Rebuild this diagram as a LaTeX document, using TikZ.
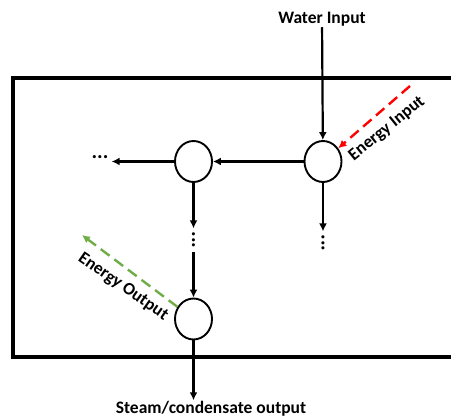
\documentclass[tikz,border=0pt]{standalone}
\usepackage{fontspec}
\setmainfont{Carlito}
\usetikzlibrary{arrows.meta,shapes.geometric}
\definecolor{eoutgreen}{RGB}{112,173,71}

\begin{document}
\begin{tikzpicture}[x=1pt,y=-1pt,
    tank/.style={draw,ellipse,line width=1.9pt,inner sep=0pt,minimum width=37pt,minimum height=41pt},
    lbl/.style={font=\fontsize{17.5}{20}\selectfont\bfseries,inner sep=1pt},
    flow/.style={line width=2.2pt,-{Latex[length=8pt,width=8pt]}},
    energy/.style={line width=2.4pt,dash pattern=on 11pt off 6pt,-{Latex[length=8pt,width=8pt]}},
    dots/.style={font=\fontsize{21}{20}\selectfont\bfseries,inner sep=3pt}]
    \useasboundingbox (0,0) rectangle (451,419);
    % the vessel wall
    \draw[line width=4pt] (470,78) -- (13,78) -- (13,357) -- (470,357);
    % nodes
    \node[tank] (c1) at (323,161.5) {};
    \node[tank] (c2) at (193.5,161.5) {};
    \node[tank] (c3) at (193.5,319) {};
    \node[lbl] (win) at (322,19) {Water Input};
    \node[lbl] (sout) at (211,409) {Steam/condensate output};
    \node[dots] (hdots) at (100,157) {...};
    \node[dots,rotate=-90] (vd1) at (193.5,240) {...};
    \node[dots,rotate=-90] (vd2) at (323,243) {...};
    \coordinate (ein) at (410,86);
    \coordinate (eout) at (82,235);
    % flows
    \draw[flow] (win) -- (c1);
    \draw[flow] (c1) -- (c2);
    \draw[flow] (c2) -- (c2 -| hdots.east);
    \draw[flow] (c2) -- (vd1);
    \draw[flow] (vd1) -- (c3);
    \draw[flow] (c1) -- (vd2);
    \draw[flow] (c3) -- (c3 |- sout.north);
    % energy
    \draw[energy,red] (ein) -- (c1);
    \draw[energy,eoutgreen] (c3) -- (eout);
    \node[lbl,rotate=39] (eintxt) at (387,129) {Energy Input};
    \node[lbl,rotate=-35] (eouttxt) at (123,287) {Energy Output};
\end{tikzpicture}
\end{document}
